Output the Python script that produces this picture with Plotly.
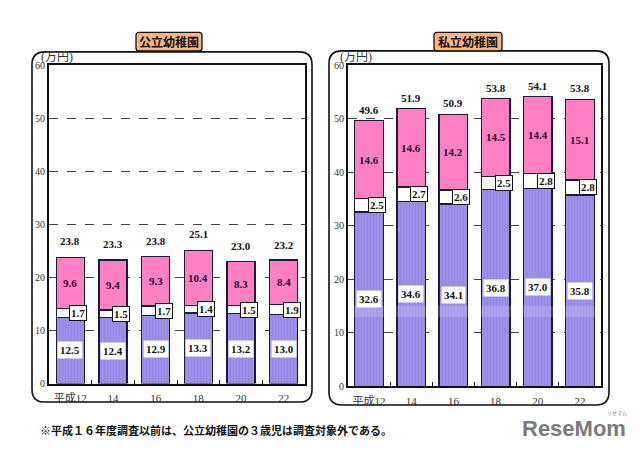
import plotly.graph_objects as go

# ---- data ----
years = ["平成12", "14", "16", "18", "20", "22"]
pub_bottom = [12.5, 12.4, 12.9, 13.3, 13.2, 13.0]
pub_mid = [1.7, 1.5, 1.7, 1.4, 1.5, 1.9]
pub_top = [9.6, 9.4, 9.3, 10.4, 8.3, 8.4]
pub_total = [23.8, 23.3, 23.8, 25.1, 23.0, 23.2]

pri_bottom = [32.6, 34.6, 34.1, 36.8, 37.0, 35.8]
pri_mid = [2.5, 2.7, 2.6, 2.5, 2.8, 2.8]
pri_top = [14.6, 14.6, 14.2, 14.5, 14.4, 15.1]
pri_total = [49.6, 51.9, 50.9, 53.8, 54.1, 53.8]

W, H = 640, 451
PURPLE = "#9e91ea"
PINK = "#ff80c2"
EDGE = "#1c1c3a"
SERIF = "Liberation Serif, Noto Sans CJK JP, serif"
GOTH = "Noto Sans CJK JP, sans-serif"

idx = list(range(len(years)))
bounds = [i + 0.5 for i in idx[:-1]]


def px(x):
    return x / W


def py(y):
    return 1 - y / H


fig = go.Figure()


def add_stack(xa, ya, bottom, mid, top, width):
    for vals, color, pat in ((bottom, PURPLE, True), (mid, "#ffffff", False), (top, PINK, False)):
        marker = dict(color=color, line=dict(color=EDGE, width=1.3))
        if pat:
            marker["pattern"] = dict(shape="|", fgcolor="#8578d8", bgcolor=color, size=3, solidity=0.3)
        fig.add_trace(go.Bar(x=idx, y=vals, xaxis=xa, yaxis=ya, marker=marker,
                             width=width, showlegend=False, hoverinfo="skip"))


add_stack("x", "y", pub_bottom, pub_mid, pub_top, 0.65)
add_stack("x2", "y2", pri_bottom, pri_mid, pri_top, 0.68)

ann = []


def add_labels(xa, ya, bottom, mid, top, total, tot_shift):
    for i in idx:
        b, m, t = bottom[i], mid[i], top[i]
        ann.append(dict(x=i, y=b / 2, xref=xa, yref=ya, text=f"{b:.1f}", showarrow=False,
                        bgcolor="white", borderpad=2,
                        font=dict(family=SERIF, size=11, color="#111", weight="bold")))
        ann.append(dict(x=i, y=b + m / 2, xref=xa, yref=ya, text=f"{m:.1f}", showarrow=False,
                        bgcolor="white", bordercolor="#111", borderwidth=1, borderpad=1, xshift=8,
                        font=dict(family=SERIF, size=11, color="#111", weight="bold")))
        ann.append(dict(x=i, y=b + m + t / 2, xref=xa, yref=ya, text=f"{t:.1f}", showarrow=False,
                        font=dict(family=SERIF, size=11, color="#2a0a30", weight="bold")))
        ann.append(dict(x=i, y=total[i], xref=xa, yref=ya, text=f"{total[i]:.1f}", showarrow=False,
                        yshift=tot_shift,
                        font=dict(family=SERIF, size=11, color="#111", weight="bold")))


add_labels("x", "y", pub_bottom, pub_mid, pub_top, pub_total, 16)
add_labels("x2", "y2", pri_bottom, pri_mid, pri_top, pri_total, 11)


def paper_text(x, y, text, font, xanchor="center"):
    ann.append(dict(x=px(x), y=py(y), xref="paper", yref="paper", text=text, showarrow=False,
                    xanchor=xanchor, yanchor="middle", font=font))


# unit labels
paper_text(39, 53, "(万円)", dict(family=SERIF, size=12, color="#333"), "left")
paper_text(338, 53, "(万円)", dict(family=SERIF, size=12, color="#333"), "left")

# titles
paper_text(169, 37.5, "公立幼稚園", dict(family=GOTH, size=12, color="#111", weight="bold"))
paper_text(468, 37.5, "私立幼稚園", dict(family=GOTH, size=12, color="#111", weight="bold"))

# footnote
paper_text(38, 436, "※平成１６年度調査以前は、公立幼稚園の３歳児は調査対象外である。",
           dict(family=GOTH, size=11, color="#111", weight="bold"), "left")

# logo
paper_text(628, 434, "ReseMom", dict(family="Liberation Sans, Arial", size=22, color="#7b7b7b",
                                      weight="bold"), "right")
paper_text(617, 418, "リセマム", dict(family=GOTH, size=5, color="#7b7b7b"))


def rounded(x0, y0, x1, y1, r):
    pts = [
        ("M", [(x0 + r, y0)]), ("L", [(x1 - r, y0)]), ("Q", [(x1, y0), (x1, y0 + r)]),
        ("L", [(x1, y1 - r)]), ("Q", [(x1, y1), (x1 - r, y1)]), ("L", [(x0 + r, y1)]),
        ("Q", [(x0, y1), (x0, y1 - r)]), ("L", [(x0, y0 + r)]), ("Q", [(x0, y0), (x0 + r, y0)]),
    ]
    s = ""
    for cmd, ps in pts:
        s += cmd + " " + " ".join(f"{px(a):.5f},{py(b):.5f}" for a, b in ps) + " "
    return s + "Z"


shapes = [
    dict(type="path", xref="paper", yref="paper", path=rounded(32, 48, 312, 407, 13),
         line=dict(color="#111", width=1.6), layer="below"),
    dict(type="path", xref="paper", yref="paper", path=rounded(329, 47, 609, 410, 13),
         line=dict(color="#111", width=1.6), layer="below"),
    dict(type="path", xref="paper", yref="paper", path=rounded(136, 28, 202, 47, 3),
         line=dict(color="#111", width=1.3), fillcolor="#f7b584"),
    dict(type="path", xref="paper", yref="paper", path=rounded(434, 28, 502, 47, 3),
         line=dict(color="#111", width=1.3), fillcolor="#f7b584"),
    # lighter band seen in the private bars
    dict(type="rect", xref="x2 domain", yref="y2", x0=0.01, x1=0.99, y0=13.0, y1=15.1,
         fillcolor="white", opacity=0.16, line=dict(width=0), layer="above"),
]

xcommon = dict(tickmode="array", tickvals=idx, ticktext=years, range=[-0.5, len(years) - 0.5],
               showline=True, linecolor="#111", linewidth=2, mirror=True,
               ticks="", tickfont=dict(family=SERIF, size=11, color="#333"), showgrid=False,
               zeroline=False, ticklabelstandoff=3,
               minor=dict(tickmode="array", tickvals=bounds, ticks="inside", ticklen=4,
                          tickcolor="#111", tickwidth=1, showgrid=False))
ycommon = dict(range=[0, 60], dtick=10, showline=True, linecolor="#111", linewidth=2, mirror=True,
               showgrid=True, gridcolor="#444", griddash="dash", gridwidth=1, zeroline=False,
               ticks="", tickfont=dict(family=SERIF, size=10, color="#333"))

fig.update_layout(
    width=W, height=H, margin=dict(l=0, r=0, t=0, b=0),
    paper_bgcolor="white", plot_bgcolor="white", barmode="stack",
    xaxis=dict(domain=[px(49), px(305)], anchor="y", **xcommon),
    yaxis=dict(domain=[py(388), py(62)], anchor="x", **ycommon),
    xaxis2=dict(domain=[px(348), px(601)], anchor="y2", **xcommon),
    yaxis2=dict(domain=[py(391), py(62)], anchor="x2", **ycommon),
    annotations=ann, shapes=shapes,
)

fig.write_html("out.html")
